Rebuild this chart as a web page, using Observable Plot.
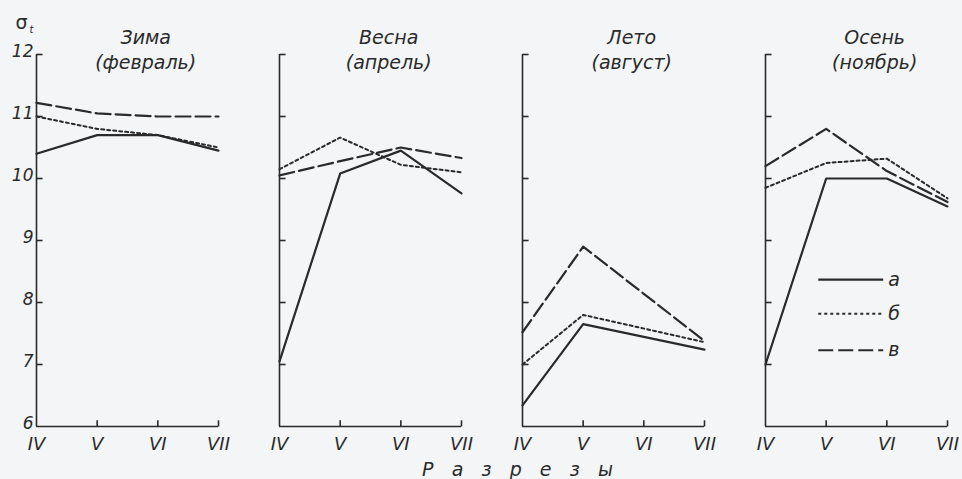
<!DOCTYPE html>
<html>
<head>
<meta charset="utf-8">
<script src="https://cdn.jsdelivr.net/npm/d3@7"></script>
<script src="https://cdn.jsdelivr.net/npm/@observablehq/plot@0.6"></script>
<style>
  html, body { margin: 0; padding: 0; background: #f3f5f7; }
</style>
</head>
<body>
<div id="chart"></div>
<script>
// ---- data ----
const seasonNames = ["Зима", "Весна", "Лето", "Осень"];
const months = ["(февраль)", "(апрель)", "(август)", "(ноябрь)"];
const sections = ["IV", "V", "VI", "VII"];
const seriesKeys = ["а", "б", "в"];
const yTicks = [6, 7, 8, 9, 10, 11, 12];

// σt values per section IV, V, VI, VII (null = no point)
const winterA = [10.4, 10.7, 10.7, 10.45];
const winterB = [11.0, 10.8, 10.7, 10.5];
const winterV = [11.22, 11.05, 11.0, 11.0];
const springA = [7.05, 10.08, 10.45, 9.76];
const springB = [10.15, 10.66, 10.22, 10.1];
const springV = [10.05, 10.28, 10.5, 10.33];
const summerA = [6.34, 7.65, null, 7.24];
const summerB = [7.0, 7.8, null, 7.36];
const summerV = [7.52, 8.9, null, 7.38];
const autumnA = [7.0, 10.0, 10.0, 9.55];
const autumnB = [9.85, 10.25, 10.32, 9.68];
const autumnV = [10.2, 10.8, 10.12, 9.62];

const table = [
  [winterA, winterB, winterV],
  [springA, springB, springV],
  [summerA, summerB, summerV],
  [autumnA, autumnB, autumnV]
];

const rows = [];
table.forEach((group, si) => {
  group.forEach((vals, ki) => {
    vals.forEach((v, xi) => {
      if (v != null) rows.push({season: seasonNames[si], key: seriesKeys[ki], xi, v});
    });
  });
});

const dashes = {"а": null, "б": "3,3", "в": "15,5"};
const widths = {"а": 2.2, "б": 2, "в": 2.2};
const ink = "#2a2a2a";
const font = "'DejaVu Sans', sans-serif";

// legend rows (drawn in the autumn panel)
const legendRows = seriesKeys.map((k, i) => ({key: k, i}));
const legendY = [8.37, 7.82, 7.23];

const titleX = 1.8;

const marks = [
  // axes frame: left and bottom
  Plot.ruleX([0], {y1: 6, y2: 12, stroke: ink, strokeWidth: 1.6}),
  Plot.ruleY([6], {x1: 0, x2: 3, stroke: ink, strokeWidth: 1.6}),
  // inward y ticks
  Plot.link(yTicks.slice(1), {x1: 0, x2: 0.1, y1: d => d, y2: d => d, stroke: ink, strokeWidth: 1.6}),
  // inward x ticks
  Plot.link([1, 2, 3], {x1: d => d, x2: d => d, y1: 6, y2: 6.1, stroke: ink, strokeWidth: 1.6}),
  // x tick labels
  Plot.text(sections.map((s, i) => ({s, i})), {x: "i", y: 6, text: "s", dy: 18, fontSize: 18, fill: ink}),
  // y tick labels (first panel only)
  Plot.text(yTicks, {fx: () => seasonNames[0], x: 0, y: d => d, text: d => String(d), dx: -3, dy: -3, textAnchor: "end", fontSize: 17, fill: ink}),
  // y label σt
  Plot.text(["σ"], {fx: () => seasonNames[0], x: 0, y: 12, text: d => d, dx: -15, dy: -32, fontSize: 19, fill: ink, fontStyle: "normal"}),
  Plot.text(["t"], {fx: () => seasonNames[0], x: 0, y: 12, text: d => d, dx: -5, dy: -25, fontSize: 10, fill: ink}),
  // panel titles
  Plot.text(seasonNames, {fx: d => d, x: titleX, y: 12, text: d => d, dy: -17, fontSize: 19, fill: ink}),
  Plot.text(months, {fx: (d, i) => seasonNames[i], x: titleX, y: 12, text: d => d, dy: 8, fontSize: 19, fill: ink}),
  // x axis title
  Plot.text(["Р   а   з   р   е   з   ы"], {fx: () => seasonNames[1], x: 3, y: 6, text: d => d, dx: 56, dy: 43, fontSize: 19, fill: ink}),
  // series lines
  ...seriesKeys.map(k => Plot.line(rows.filter(r => r.key === k), {
    fx: "season", x: "xi", y: "v", z: "season",
    stroke: ink, strokeWidth: widths[k], strokeDasharray: dashes[k]
  })),
  // legend
  ...seriesKeys.map((k, i) => Plot.link([k], {
    fx: () => seasonNames[3], x1: 0.87, x2: 1.94, y1: () => legendY[i], y2: () => legendY[i],
    stroke: ink, strokeWidth: widths[k], strokeDasharray: dashes[k]
  })),
  Plot.text(legendRows, {fx: () => seasonNames[3], x: 1.94, y: d => legendY[d.i], text: "key", dx: 5, textAnchor: "start", fontSize: 19, fill: ink})
];

const chart = Plot.plot({
  width: 962,
  height: 479,
  marginLeft: 35,
  marginRight: 14,
  marginTop: 54,
  marginBottom: 53,
  x: {domain: [0, 3], axis: null},
  y: {domain: [6, 12], axis: null},
  fx: {domain: seasonNames, axis: null, paddingInner: 0.25, paddingOuter: 0},
  style: {background: "#f3f5f7", fontFamily: font, fontStyle: "italic", color: ink, overflow: "visible"},
  marks
});
document.getElementById("chart").append(chart);
</script>
</body>
</html>
